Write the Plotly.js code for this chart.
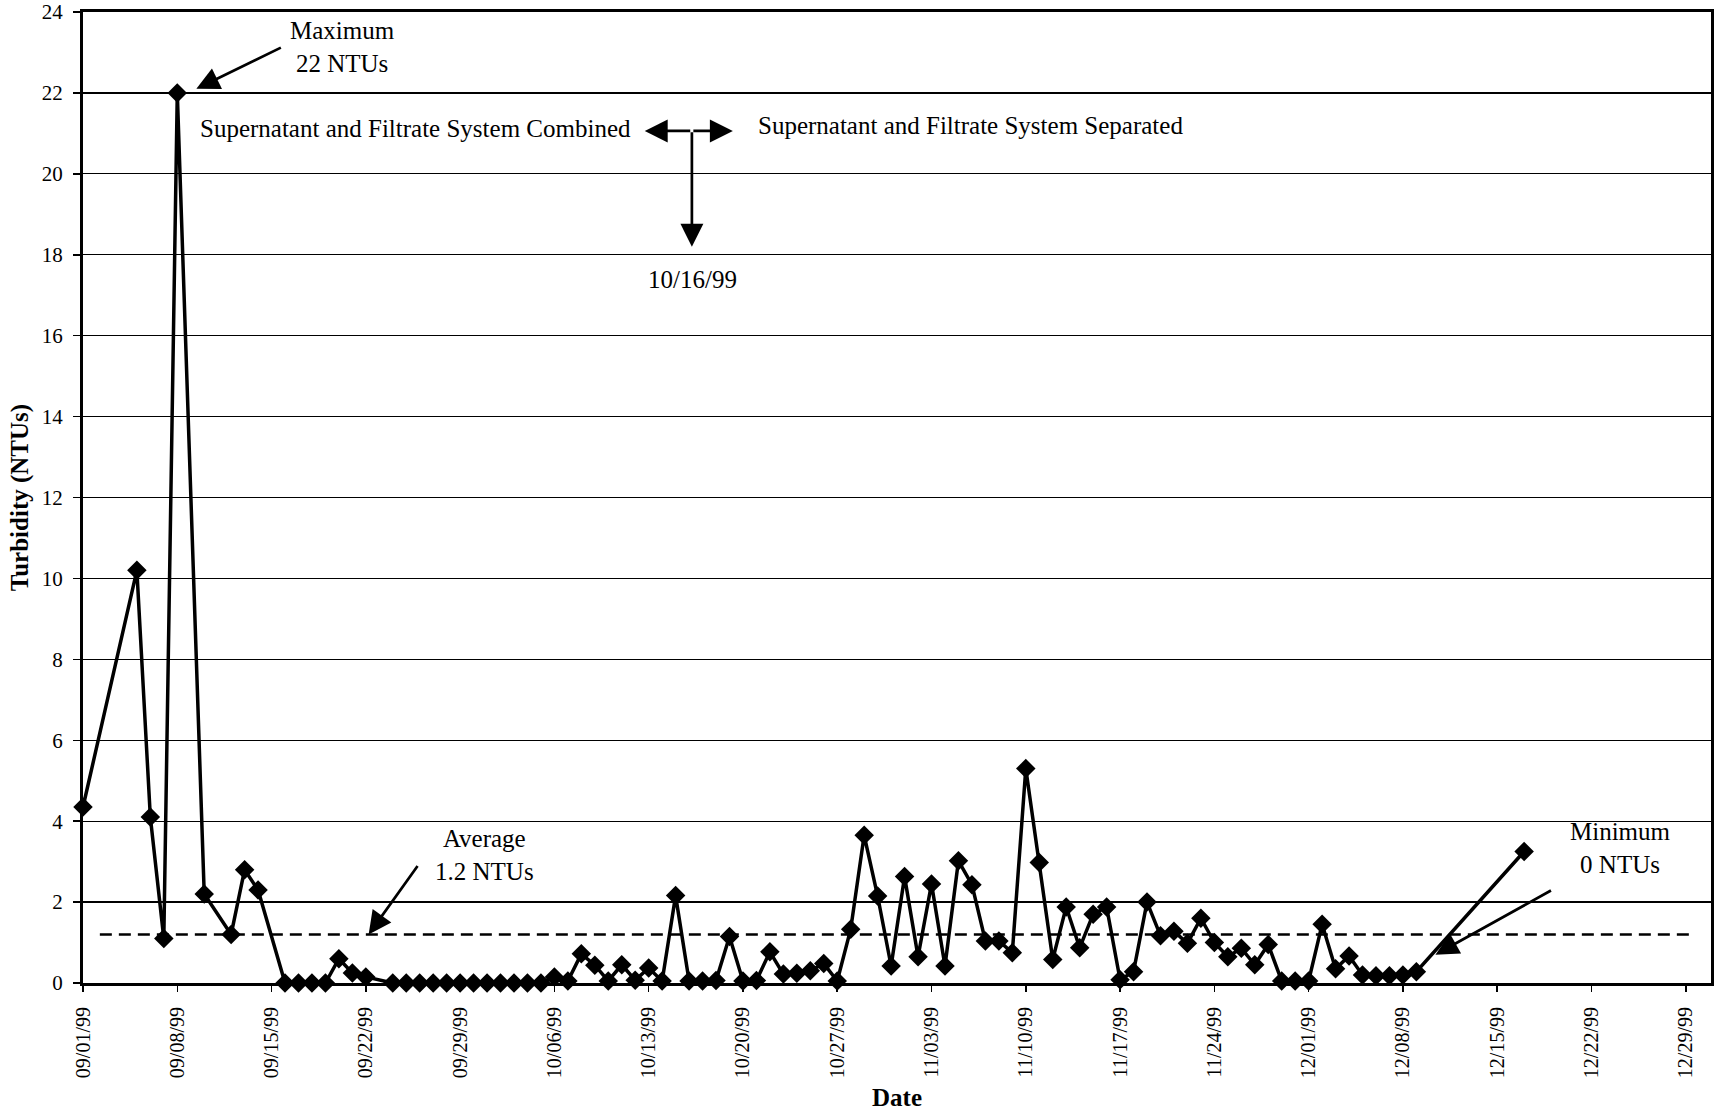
<!DOCTYPE html>
<html>
<head>
<meta charset="utf-8">
<script src="https://cdn.plot.ly/plotly-3.0.1.min.js"></script>
<style>
  html, body { margin: 0; padding: 0; background: #fff; }
  #chart { width: 1714px; height: 1114px; }
</style>
</head>
<body>
<div id="chart"></div>
<script>
// Daily turbidity readings, Sept - Dec 1999
const sampleDates = [
  '1999-09-01','1999-09-05','1999-09-06','1999-09-07','1999-09-08','1999-09-10','1999-09-12','1999-09-13','1999-09-14',
  '1999-09-16','1999-09-17','1999-09-18','1999-09-19','1999-09-20','1999-09-21','1999-09-22',
  '1999-09-24','1999-09-25','1999-09-26','1999-09-27','1999-09-28','1999-09-29','1999-09-30',
  '1999-10-01','1999-10-02','1999-10-03','1999-10-04','1999-10-05',
  '1999-10-06','1999-10-07','1999-10-08','1999-10-09','1999-10-10','1999-10-11','1999-10-12','1999-10-13',
  '1999-10-14','1999-10-15','1999-10-16','1999-10-17','1999-10-18','1999-10-19','1999-10-20','1999-10-21',
  '1999-10-22','1999-10-23','1999-10-24','1999-10-25','1999-10-26','1999-10-27','1999-10-28','1999-10-29',
  '1999-10-30','1999-10-31',
  '1999-11-01','1999-11-02','1999-11-03','1999-11-04','1999-11-05','1999-11-06','1999-11-07','1999-11-08',
  '1999-11-09','1999-11-10','1999-11-11','1999-11-12','1999-11-13','1999-11-14','1999-11-15','1999-11-16',
  '1999-11-17','1999-11-18','1999-11-19','1999-11-20','1999-11-21','1999-11-22','1999-11-23','1999-11-24',
  '1999-11-25','1999-11-26','1999-11-27','1999-11-28','1999-11-29','1999-11-30',
  '1999-12-01','1999-12-02','1999-12-03','1999-12-04','1999-12-05','1999-12-06','1999-12-07','1999-12-08',
  '1999-12-09','1999-12-17'
];

const turbidity = [
  4.35, 10.2, 4.1, 1.1, 22, 2.2, 1.2, 2.8, 2.3,
  0, 0, 0, 0, 0.6, 0.25, 0.15,
  0, 0, 0, 0, 0, 0, 0,
  0, 0, 0, 0, 0,
  0.15, 0.05, 0.72, 0.44, 0.05, 0.45, 0.07, 0.37,
  0.05, 2.16, 0.05, 0.05, 0.06, 1.15, 0.05, 0.06,
  0.77, 0.22, 0.24, 0.3, 0.48, 0.05, 1.33, 3.65,
  2.15, 0.42,
  2.63, 0.65, 2.45, 0.42, 3.02, 2.43, 1.04, 1.04,
  0.75, 5.3, 2.98, 0.58, 1.88, 0.87, 1.7, 1.88,
  0.08, 0.28, 2.0, 1.17, 1.28, 0.98, 1.6, 1.0,
  0.65, 0.86, 0.45, 0.95, 0.05, 0.05,
  0.05, 1.45, 0.35, 0.67, 0.2, 0.18, 0.18, 0.2,
  0.28, 3.25
];

// Reference levels quoted on the chart
const MAXIMUM_NTU = 22;
const AVERAGE_NTU = 1.2;
const averageSpan = ['1999-09-02 06:00', '1999-12-29 12:00'];
const changeoverDate = '1999-10-16 05:00';

// Weekly date ticks
const weekTicks = [
  '1999-09-01','1999-09-08','1999-09-15','1999-09-22','1999-09-29','1999-10-06','1999-10-13','1999-10-20',
  '1999-10-27','1999-11-03','1999-11-10','1999-11-17','1999-11-24','1999-12-01','1999-12-08','1999-12-15',
  '1999-12-22','1999-12-29'
];
const weekLabels = [
  '09/01/99','09/08/99','09/15/99','09/22/99','09/29/99','10/06/99','10/13/99','10/20/99',
  '10/27/99','11/03/99','11/10/99','11/17/99','11/24/99','12/01/99','12/08/99','12/15/99',
  '12/22/99','12/29/99'
];

const SERIF = '"Liberation Serif", "Times New Roman", Times, serif';
const noteFont = { family: SERIF, size: 25, color: 'black' };

const traces = [
  {
    x: averageSpan,
    y: [AVERAGE_NTU, AVERAGE_NTU],
    mode: 'lines',
    line: { color: 'black', width: 2.6, dash: '12px,7px' },
    hoverinfo: 'skip'
  },
  {
    x: sampleDates,
    y: turbidity,
    mode: 'lines+markers',
    line: { color: 'black', width: 3.5 },
    marker: { symbol: 'diamond', size: 15, color: 'black' },
    cliponaxis: false
  }
];

// arrow helper: tip at (x, y), tail offset (ax, ay) in pixels
function arrow(x, y, ax, ay, xref, yref) {
  return {
    x: x, y: y, xref: xref || 'x', yref: yref || 'y',
    ax: ax, ay: ay, text: '', showarrow: true,
    arrowhead: 2, arrowsize: 1.7, arrowwidth: 2.7, arrowcolor: 'black'
  };
}
function note(text, x, y, xanchor) {
  return {
    text: text, x: x, y: y, xref: 'paper', yref: 'paper',
    xanchor: xanchor || 'center', yanchor: 'middle', showarrow: false,
    font: noteFont, align: 'center'
  };
}

const annotations = [
  note('Maximum<br>22 NTUs', 0.1594, 0.9644),
  arrow('1999-09-09 10:00', MAXIMUM_NTU + 0.1, 86, -42),

  note('Supernatant and Filtrate System Combined', 0.0705, 0.8805, 'left'),
  note('Supernatant and Filtrate System Separated', 0.4135, 0.8826, 'left'),
  arrow('1999-10-12 17:00', 21.06, 47, 0),
  arrow('1999-10-19 06:00', 21.06, -41, 0),
  arrow(changeoverDate, 18.2, 0, -116),
  note('10/16/99', 0.3741, 0.724),

  note('Average<br>1.2 NTUs', 0.2469, 0.1318),
  arrow('1999-09-22 05:00', AVERAGE_NTU, 50, -70),

  note('Minimum<br>0 NTUs', 0.9447, 0.139),
  arrow('1999-12-10 10:00', 0.7, 117, -65)
];

const layout = {
  width: 1714,
  height: 1114,
  margin: { l: 83, r: 3, t: 12, b: 131 },
  paper_bgcolor: 'white',
  plot_bgcolor: 'white',
  showlegend: false,
  font: { family: SERIF, color: 'black', size: 20 },
  xaxis: {
    type: 'date',
    range: ['1999-09-01', '1999-12-30 21:00'],
    tickmode: 'array',
    tickvals: weekTicks,
    ticktext: weekLabels,
    tickangle: -90,
    ticks: 'outside', ticklen: 6, tickwidth: 1.5, tickcolor: 'black',
    tickfont: { family: SERIF, size: 20, color: 'black' },
    ticklabelstandoff: 7,
    showgrid: false, zeroline: false,
    showline: true, linecolor: 'black', linewidth: 3, mirror: true,
    automargin: false,
    title: { text: '<b>Date</b>', font: { family: SERIF, size: 25, color: 'black' }, standoff: 12 }
  },
  yaxis: {
    range: [0, 24],
    tick0: 0, dtick: 2,
    ticks: 'outside', ticklen: 7, tickwidth: 1.5, tickcolor: 'black',
    tickfont: { family: SERIF, size: 21, color: 'black' },
    ticklabelstandoff: 6,
    showgrid: true, gridcolor: 'black', gridwidth: 1.3,
    zeroline: false,
    showline: true, linecolor: 'black', linewidth: 3, mirror: true,
    automargin: false,
    title: { text: '<b>Turbidity (NTUs)</b>', font: { family: SERIF, size: 25, color: 'black' }, standoff: 7 }
  },
  annotations: annotations
};

Plotly.newPlot('chart', traces, layout, { staticPlot: true, displayModeBar: false });
</script>
</body>
</html>
